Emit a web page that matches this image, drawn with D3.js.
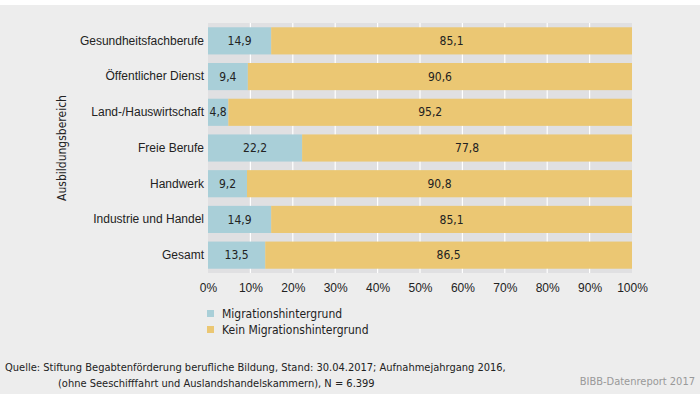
<!DOCTYPE html>
<html>
<head>
<meta charset="utf-8">
<script src="https://cdn.jsdelivr.net/npm/d3@7"></script>
<style>
  body { margin: 0; background: #fff; }
  svg { display: block; font-family: "DejaVu Sans Condensed", "Liberation Sans Narrow", sans-serif; font-stretch: condensed; }
</style>
</head>
<body>
<div id="chart"></div>
<script>
const categories = ["Gesundheitsfachberufe", "Öffentlicher Dienst", "Land-/Hauswirtschaft",
  "Freie Berufe", "Handwerk", "Industrie und Handel", "Gesamt"];
const migration = [14.9, 9.4, 4.8, 22.2, 9.2, 14.9, 13.5];
const noMigration = [85.1, 90.6, 95.2, 77.8, 90.8, 85.1, 86.5];
const seriesNames = ["Migrationshintergrund", "Kein Migrationshintergrund"];
const ticks = [0, 10, 20, 30, 40, 50, 60, 70, 80, 90, 100];

const width = 700, height = 394;
const colors = ["#a9cfd8", "#ebc773"];

const rows = categories.map((c, i) => ({ name: c, a: migration[i], b: noMigration[i] }));
const stack = d3.stack().keys(["a", "b"])(rows);

const svg = d3.select("#chart").append("svg")
    .attr("width", width)
    .attr("height", height);

svg.append("rect")
    .attr("x", 0).attr("y", 5)
    .attr("width", width).attr("height", height - 5)
    .attr("fill", "#ededed");

const x = d3.scaleLinear().domain([0, 100]).range([208, 632]);
const y = d3.scaleBand().domain(categories).range([23, 273]).paddingInner(0.24).paddingOuter(0.12);

// plot background
svg.append("rect")
    .attr("x", x(0)).attr("y", 23)
    .attr("width", x(100) - x(0)).attr("height", 250)
    .attr("fill", "#e0e0e2");

svg.append("g")
    .selectAll("line")
    .data(ticks.slice(1, -1))
    .enter().append("line")
    .attr("x1", d => x(d)).attr("x2", d => x(d))
    .attr("y1", 23).attr("y2", 273)
    .attr("stroke", "#fff")
    .attr("stroke-width", 1.2);

const layer = svg.append("g")
    .selectAll("g")
    .data(stack)
    .enter().append("g")
    .attr("fill", (d, i) => colors[i]);

layer.selectAll("rect")
    .data(d => d)
    .enter().append("rect")
    .attr("x", d => x(d[0]))
    .attr("y", d => y(d.data.name))
    .attr("width", d => x(d[1]) - x(d[0]))
    .attr("height", y.bandwidth());

const fmt = v => d3.format(".1f")(v).replace(".", ",");

layer.selectAll("text")
    .data(d => d.map(p => ({ p, key: d.key })))
    .enter().append("text")
    .attr("x", d => (x(d.p[0]) + x(d.p[1])) / 2)
    .attr("y", d => y(d.p.data.name) + y.bandwidth() / 2)
    .attr("dy", "0.35em")
    .attr("text-anchor", "middle")
    .attr("fill", "#222")
    .style("font-size", "12px")
    .text(d => fmt(d.p[1] - d.p[0]));

// category labels
const yAxis = svg.append("g")
    .attr("transform", `translate(${x(0)},0)`)
    .call(d3.axisLeft(y).tickSize(0).tickPadding(4));
yAxis.select(".domain").remove();
yAxis.selectAll("text")
    .attr("fill", "#222")
    .style("font-size", "12px")
    .style("font-family", "inherit");

// x tick labels
const xAxis = svg.append("g")
    .attr("transform", `translate(0,273)`)
    .call(d3.axisBottom(x).tickValues(ticks).tickSize(0).tickPadding(10).tickFormat(d => d + "%"));
xAxis.select(".domain").remove();
xAxis.selectAll("text")
    .attr("fill", "#222")
    .style("font-size", "12px")
    .style("font-family", "inherit");

svg.append("text")
    .attr("transform", "translate(66,148) rotate(-90)")
    .attr("text-anchor", "middle")
    .attr("fill", "#222")
    .style("font-size", "12px")
    .text("Ausbildungsbereich");

// legend
const legend = svg.append("g")
    .selectAll("g")
    .data(seriesNames)
    .enter().append("g")
    .attr("transform", (d, i) => `translate(207,${310 + i * 16})`);
legend.append("rect")
    .attr("width", 7).attr("height", 7)
    .attr("fill", (d, i) => colors[i]);
legend.append("text")
    .attr("x", 15).attr("y", 3.5)
    .attr("dy", "0.35em")
    .attr("fill", "#222")
    .style("font-size", "12px")
    .text(d => d);

// source notes
svg.append("text")
    .attr("x", 5).attr("y", 371)
    .attr("fill", "#222")
    .style("font-size", "11px")
    .text("Quelle: Stiftung Begabtenförderung berufliche Bildung, Stand: 30.04.2017; Aufnahmejahrgang 2016,");
svg.append("text")
    .attr("x", 58).attr("y", 387)
    .attr("fill", "#222")
    .style("font-size", "11px")
    .text("(ohne Seeschifffahrt und Auslandshandelskammern), N = 6.399");
svg.append("text")
    .attr("x", 695).attr("y", 385)
    .attr("text-anchor", "end")
    .attr("fill", "#999")
    .style("font-size", "11px")
    .text("BIBB-Datenreport 2017");
</script>
</body>
</html>
